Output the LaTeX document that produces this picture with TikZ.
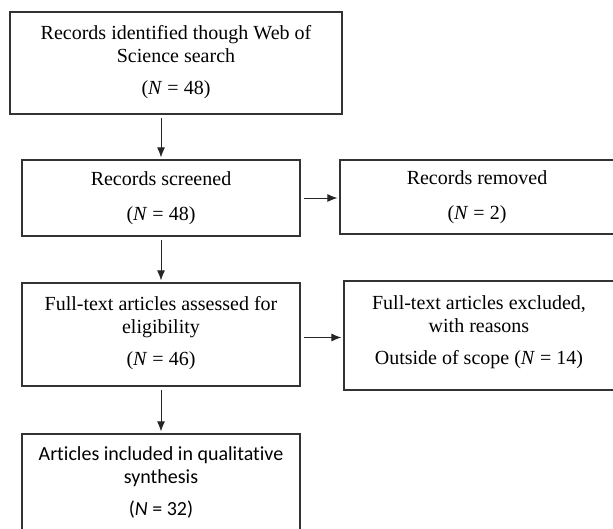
\documentclass[tikz,border=0pt]{standalone}
\usepackage{fontspec}
\setmainfont{Liberation Serif}
\newfontfamily\calibrifont[Ligatures=NoCommon]{Carlito}
\usetikzlibrary{arrows.meta}

\begin{document}
\begin{tikzpicture}[x=1pt,y=-1pt,
  pbox/.style={draw=black!80, line width=1.3pt, rectangle, inner sep=0pt},
  ptext/.style={inner sep=0pt, align=center, font=\fontsize{20}{23}\selectfont},
  flow/.style={draw=black!85, line width=0.9pt,
    -{Latex[length=10pt,width=8pt]}, shorten <=3pt, shorten >=2pt}]
  \useasboundingbox (0,0) rectangle (613,529);
  \clip (0,0) rectangle (613,529);

  % boxes of the left column
  \node[pbox, minimum width=332pt, minimum height=102pt] (ident) at (176,63) {};
  \node[pbox, minimum width=278pt, minimum height=76pt] (screen) at (161,198) {};
  \node[pbox, minimum width=278pt, minimum height=103pt] (full) at (161,334.5) {};
  \node[pbox, minimum width=278pt, minimum height=100pt] (incl) at (161,484) {};

  % boxes of the right column (running off the right edge)
  \node[pbox, minimum width=274pt, minimum height=74pt] (removed) at (477,197) {};
  \node[pbox, minimum width=270pt, minimum height=109pt] (excl) at (479,335.5) {};

  % box texts
  \node[ptext] (identtxt) at ([yshift=1pt]ident.center)
    {Records identified though Web of\\ Science search\\[9pt] (\textit{N} = 48)};
  \node[ptext] (screentxt) at (screen.center)
    {Records screened\\[12pt] (\textit{N} = 48)};
  \node[ptext] (fulltxt) at ([yshift=1pt]full.center)
    {Full-text articles assessed for\\ eligibility\\[9pt] (\textit{N} = 46)};
  \node[ptext, font=\fontsize{20}{23}\calibrifont] (incltxt) at ([yshift=2pt]incl.center)
    {Articles included in qualitative\\ synthesis\\[9pt] (\textit{N} = 32)};
  \node[ptext] (removedtxt) at (removed.center)
    {Records removed\\[12pt] (\textit{N} = 2)};
  \node[ptext] (excltxt) at ([yshift=3pt]excl.center)
    {Full-text articles excluded,\\ with reasons\\[9pt] Outside of scope (\textit{N} = 14)};

  % connectors
  \draw[flow] (screen.north |- ident.south) -- (screen.north);
  \draw[flow] (screen.south) -- (full.north);
  \draw[flow] (full.south) -- (incl.north);
  \draw[flow] (screen.east) -- (screen.east -| removed.west);
  \draw[flow] ([yshift=-3pt]full.east) -- ([yshift=-3pt]full.east -| excl.west);
\end{tikzpicture}
\end{document}
